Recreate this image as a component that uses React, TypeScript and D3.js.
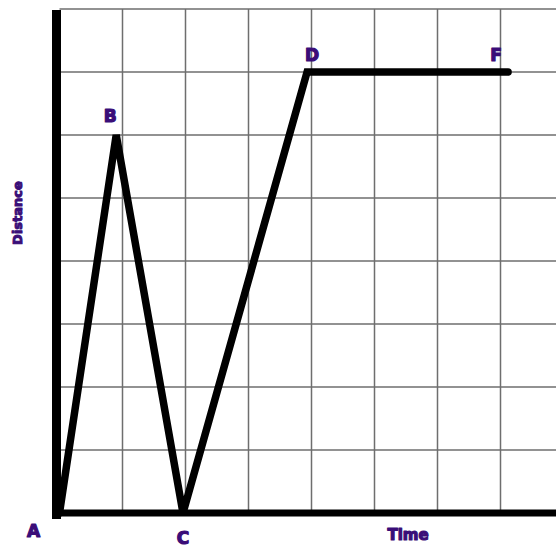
import { useRef, useEffect } from 'react';
import * as d3 from 'd3';

// Distance–time graph: points A..F
const pointLabels = ['A', 'B', 'C', 'D', 'F'];
const timeValues = [0, 0.9, 1.96, 3.93, 7.12];
const distanceValues = [0, 6, 0, 7, 7];

const gridSteps = [1, 2, 3, 4, 5, 6, 7, 8];

// label offsets from their point (px)
const labelOffsets: [number, number][] = [
  [-26, 18], [-6, -19], [0, 25], [5, -17], [-12, -17],
];

const INK = '#3a0d78';

function App() {
  const svgRef = useRef<SVGSVGElement>(null);

  useEffect(() => {
    const svg = d3.select(svgRef.current);
    svg.selectAll('*').remove();

    const W = 556, H = 547;
    const x = d3.scaleLinear().domain([0, 8]).range([59.5, 563.5]);
    const y = d3.scaleLinear().domain([0, 8]).range([513, 9]);

    svg.append('rect').attr('width', W).attr('height', H).attr('fill', '#fff');

    // grid
    const grid = svg.append('g').attr('stroke', '#6e6e6e').attr('stroke-width', 1.5);
    grid.selectAll('line.v')
      .data(gridSteps)
      .enter().append('line')
      .attr('x1', d => x(d)).attr('x2', d => x(d))
      .attr('y1', y(8)).attr('y2', y(0));
    grid.selectAll('line.h')
      .data([0, ...gridSteps])
      .enter().append('line')
      .attr('x1', x(0)).attr('x2', W)
      .attr('y1', d => y(d)).attr('y2', d => y(d));

    // axes
    svg.append('line')
      .attr('x1', x(0) - 3).attr('x2', x(0) - 3)
      .attr('y1', y(8) + 1).attr('y2', y(0) + 6)
      .attr('stroke', '#000').attr('stroke-width', 9);
    svg.append('line')
      .attr('x1', x(0) - 7).attr('x2', W)
      .attr('y1', y(0)).attr('y2', y(0))
      .attr('stroke', '#000').attr('stroke-width', 7);

    const pts = timeValues.map((t, i) => ({ t, d: distanceValues[i], label: pointLabels[i] }));

    const line = d3.line<{ t: number; d: number }>()
      .x(d => x(d.t))
      .y(d => y(d.d));

    svg.append('path')
      .datum(pts)
      .attr('d', line)
      .attr('fill', 'none')
      .attr('stroke', '#000')
      .attr('stroke-width', 7.5)
      .attr('stroke-linejoin', 'miter')
      .attr('stroke-linecap', 'round');

    const label = (sel: d3.Selection<SVGTextElement, any, any, any>, size: number) =>
      sel.attr('text-anchor', 'middle')
        .attr('dominant-baseline', 'central')
        .style('font-family', '"DejaVu Sans", sans-serif')
        .style('font-weight', 'bold')
        .style('font-size', `${size}px`)
        .style('fill', INK)
        .style('stroke', INK)
        .style('stroke-width', 1.2)
        .style('stroke-linejoin', 'round');

    // point labels
    svg.selectAll('text.pt')
      .data(pts)
      .enter().append('text')
      .attr('class', 'pt')
      .attr('x', (d, i) => x(d.t) + labelOffsets[i][0])
      .attr('y', (d, i) => y(d.d) + labelOffsets[i][1])
      .call(s => label(s, 17))
      .text(d => d.label);

    // axis titles
    svg.append('text')
      .attr('x', 408).attr('y', 535)
      .call(s => label(s, 15))
      .text('Time');

    svg.append('text')
      .attr('transform', 'translate(17,213) rotate(-90)')
      .call(s => label(s, 13))
      .style('stroke-width', 1)
      .text('Distance');
  }, []);

  return (
    <svg
      ref={svgRef}
      width={556}
      height={547}
      style={{ position: 'absolute', left: 0, top: 0, display: 'block' }}
    />
  );
}

export default App;
